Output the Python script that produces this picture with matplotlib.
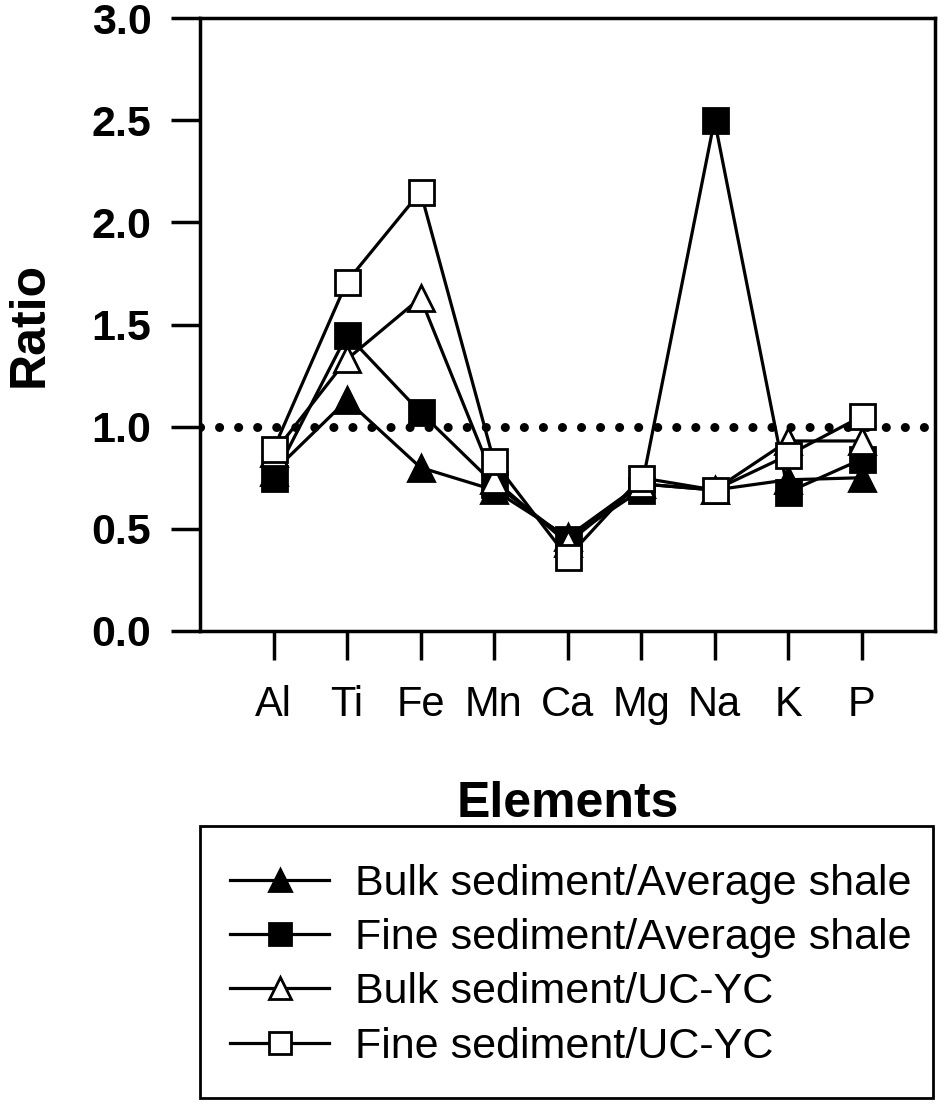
import numpy as np
import matplotlib
matplotlib.use("Agg")
import matplotlib.pyplot as plt
from matplotlib.patches import Rectangle

plt.rcParams['font.family'] = ['Liberation Sans', 'DejaVu Sans']

# data
elements = ['Al', 'Ti', 'Fe', 'Mn', 'Ca', 'Mg', 'Na', 'K', 'P']
bulk_shale = [0.78, 1.13, 0.80, 0.69, 0.46, 0.72, 0.69, 0.74, 0.75]
fine_shale = [0.75, 1.45, 1.07, 0.72, 0.45, 0.69, 2.50, 0.68, 0.84]
bulk_ucyc = [0.87, 1.33, 1.63, 0.74, 0.43, 0.72, 0.69, 0.93, 0.93]
fine_ucyc = [0.89, 1.71, 2.15, 0.83, 0.36, 0.75, 0.69, 0.86, 1.05]
series_labels = ['Bulk sediment/Average shale', 'Fine sediment/Average shale',
                 'Bulk sediment/UC-YC', 'Fine sediment/UC-YC']
yticks = [0.0, 0.5, 1.0, 1.5, 2.0, 2.5, 3.0]
ref_level = 1.0

W, H = 950, 1104
fig = plt.figure(figsize=(W/100, H/100), dpi=100)
ax = fig.add_axes([200/W, 1-631/H, 735/W, 613/H])

x = np.arange(1, len(elements)+1)

ax.plot([0, 10], [ref_level, ref_level], color='black', lw=6.5,
        linestyle=(0, (0.01, 2.1)), dash_capstyle='round', zorder=1)

styles = [('^', 'black'), ('s', 'black'), ('^', 'white'), ('s', 'white')]
for i, (vals, lab, (mk, fc)) in enumerate(zip([bulk_shale, fine_shale, bulk_ucyc, fine_ucyc],
                                               series_labels, styles)):
    ms = 18 if mk == 's' else 19
    ax.plot(x, vals, color='black', lw=2.3, marker=mk, markersize=ms,
            markerfacecolor=fc, markeredgecolor='black', markeredgewidth=2,
            label=lab, zorder=2+i)

ax.set_xlim(0, 10)
ax.set_ylim(0, 3.0)
ax.set_xticks(x)
ax.set_xticklabels(elements, fontsize=30)
ax.set_yticks(yticks)
ax.set_yticklabels(['%.1f' % t for t in yticks], fontsize=31, fontweight='bold')
ax.tick_params(axis='y', direction='out', length=21, width=2.5, pad=14)
ax.tick_params(axis='x', direction='out', length=21, width=2.5, pad=18)
for s in ['top', 'bottom', 'left', 'right']:
    ax.spines[s].set_linewidth(2.5)

ax.set_ylabel('Ratio', fontsize=36, fontweight='bold', labelpad=28)
ax.set_xlabel('Elements', fontsize=36, fontweight='bold', labelpad=40)

# legend frame drawn separately so its size can match the original box
fig.patches.append(Rectangle((200/W, 1-1098/H), 733/W, 272/H, transform=fig.transFigure,
                             fill=False, edgecolor='black', linewidth=2))
leg = fig.legend(*ax.get_legend_handles_labels(), loc='upper left',
                 bbox_to_anchor=(230/W, 1-864/H), fontsize=31, numpoints=1,
                 handlelength=2.3, handletextpad=0.6, labelspacing=0.33,
                 borderpad=0, borderaxespad=0, frameon=False)
for h in leg.legend_handles:
    h.set_markersize(16)

fig.savefig('out.png', dpi=100)
